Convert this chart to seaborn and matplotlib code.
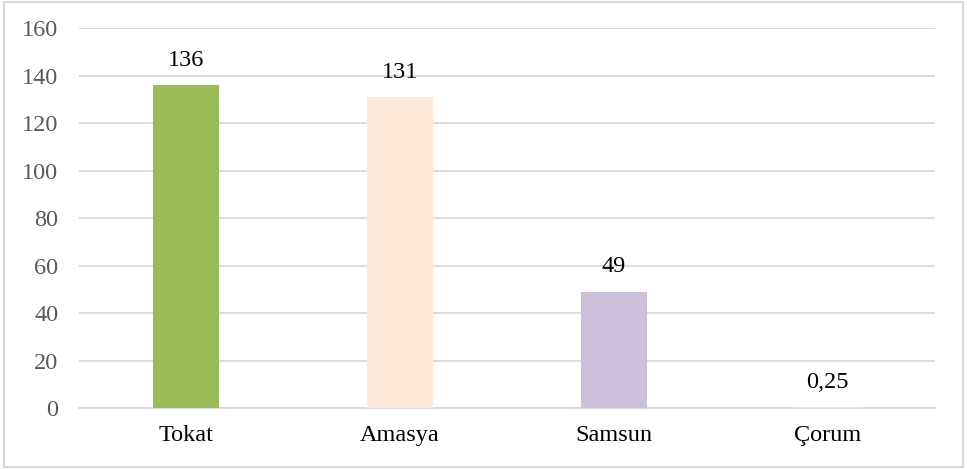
import pandas as pd
import seaborn as sns
import matplotlib.pyplot as plt
from matplotlib.patches import Rectangle

# Data
cities = ["Tokat", "Amasya", "Samsun", "Çorum"]
values = [136, 131, 49, 0.25]
labels = ["136", "131", "49", "0,25"]
colors = ["#9BBB59", "#FDE9D9", "#CCC0DA", "#F2DCDB"]

df = pd.DataFrame({"city": cities, "value": values})

sns.set_style("white")
plt.rcParams["font.family"] = ["Liberation Serif", "DejaVu Serif"]

fig = plt.figure(figsize=(9.67, 4.69), dpi=100)
ax = fig.add_axes([0.0817, 0.130, 0.885, 0.810])

sns.barplot(data=df, x="city", y="value", hue="city", palette=colors,
            width=0.31, saturation=1, linewidth=0, legend=False, ax=ax, zorder=3)

for i, (v, lab) in enumerate(zip(values, labels)):
    ax.text(i, v + 6, lab, ha="center", va="bottom", fontsize=17.5, color="black")

ax.set_ylim(0, 160)
ax.set_yticks(range(0, 161, 20))
ax.yaxis.grid(True, color="#D9D9D9", linewidth=1.3, zorder=0)
ax.set_axisbelow(True)
for s in ["top", "right", "left"]:
    ax.spines[s].set_visible(False)
ax.spines["bottom"].set_color("#D9D9D9")
ax.spines["bottom"].set_linewidth(1.3)
ax.tick_params(axis="y", length=0, labelsize=17.5, labelcolor="#595959", pad=15)
ax.tick_params(axis="x", length=0, labelsize=17.5, labelcolor="black", pad=12)
ax.set_xlabel("")
ax.set_ylabel("")

fig.patches.append(Rectangle((0.004, 0.005), 0.992, 0.99, transform=fig.transFigure,
                             fill=False, edgecolor="#D9D9D9", linewidth=1.5))

fig.savefig("out.png", dpi=100)
